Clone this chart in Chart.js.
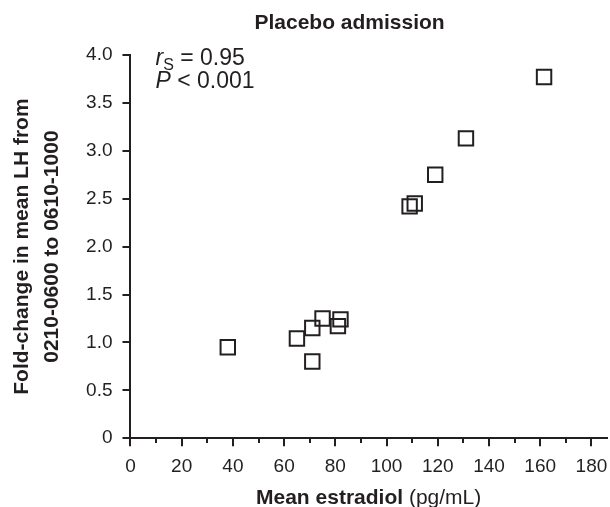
<!DOCTYPE html>
<html>
<head>
<meta charset="utf-8">
<script src="https://cdn.jsdelivr.net/npm/chart.js@4.4.1/dist/chart.umd.min.js"></script>
<style>
  html, body { margin: 0; padding: 0; background: #fff; overflow: hidden; }
  #wrap { width: 619px; height: 507px; position: relative; }
</style>
</head>
<body>
<div id="wrap"><canvas id="scatterChart"></canvas></div>
<script>
// data
const estradiol  = [38, 65, 71, 71, 75, 81, 82, 109, 111, 119, 131, 161.5];
const foldChange = [0.95, 1.04, 1.15, 0.80, 1.25, 1.17, 1.24, 2.42, 2.45, 2.75, 3.13, 3.77];

const xTickValues  = [0, 20, 40, 60, 80, 100, 120, 140, 160, 180];
const xMinorValues = [10, 30, 50, 70, 90, 110, 130, 150, 170];
const yTickValues  = [0, 0.5, 1, 1.5, 2, 2.5, 3, 3.5, 4];
const yTickLabels  = ['0', '0.5', '1.0', '1.5', '2.0', '2.5', '3.0', '3.5', '4.0'];

const chartTitle = 'Placebo admission';
const yTitle = ['Fold-change in mean LH from', '0210-0600 to 0610-1000'];
const xTitleBold = 'Mean estradiol';
const xTitleUnit = ' (pg/mL)';
const statR = ' = 0.95';
const statP = ' < 0.001';

const ink = '#231f20';
const family = '"Liberation Sans", Arial, sans-serif';

const points = estradiol.map((x, i) => ({ x: x, y: foldChange[i] }));

// title, stats and the mixed-weight x title
const extraText = {
    id: 'extraText',
    afterDraw(chart) {
        const ctx = chart.ctx;
        const area = chart.chartArea;
        ctx.save();
        ctx.fillStyle = ink;
        ctx.textBaseline = 'alphabetic';

        ctx.font = 'bold 21px ' + family;
        ctx.textAlign = 'center';
        ctx.fillText(chartTitle, area.left + area.width * 0.46, 29);

        // x axis title
        ctx.textAlign = 'left';
        ctx.font = 'bold 21px ' + family;
        const wb = ctx.measureText(xTitleBold).width;
        ctx.font = '21px ' + family;
        const wu = ctx.measureText(xTitleUnit).width;
        const tx = area.left + area.width * 0.5 - (wb + wu) / 2;
        ctx.font = 'bold 21px ' + family;
        ctx.fillText(xTitleBold, tx, 504);
        ctx.font = '21px ' + family;
        ctx.fillText(xTitleUnit, tx + wb, 504);

        // stats
        const sx = area.left + 25;
        let sy = area.top + 10;
        ctx.font = 'italic 23px ' + family;
        ctx.fillText('r', sx, sy);
        let w = ctx.measureText('r').width;
        ctx.font = '16px ' + family;
        ctx.fillText('S', sx + w, sy + 5);
        w += ctx.measureText('S').width;
        ctx.font = '23px ' + family;
        ctx.fillText(statR, sx + w, sy);

        sy += 23;
        ctx.font = 'italic 23px ' + family;
        ctx.fillText('P', sx, sy);
        w = ctx.measureText('P').width;
        ctx.font = '23px ' + family;
        ctx.fillText(statP, sx + w, sy);
        ctx.restore();
    }
};

const ctx = document.getElementById('scatterChart').getContext('2d');
const scatterChart = new Chart(ctx, {
    type: 'scatter',
    data: {
        datasets: [{
            data: points,
            pointStyle: 'rect',
            pointRadius: 10.2,
            pointHoverRadius: 10.2,
            borderWidth: 2,
            borderColor: ink,
            backgroundColor: 'rgba(0,0,0,0)'
        }]
    },
    options: {
        responsive: true,
        maintainAspectRatio: false,
        animation: false,
        events: [],
        layout: { padding: { top: 55, left: 4, right: 0, bottom: 20 } },
        plugins: {
            legend: { display: false },
            tooltip: { enabled: false },
            title: { display: false }
        },
        scales: {
            x: {
                type: 'linear',
                min: 0,
                max: 186,
                afterBuildTicks: axis => { axis.ticks = xTickValues.map(v => ({ value: v })); },
                ticks: { color: ink, font: { family: family, size: 19 }, padding: 9, maxRotation: 0 },
                grid: { drawOnChartArea: false, color: ink, lineWidth: 2, tickLength: 8 },
                border: { color: ink, width: 2 }
            },
            xMinor: {
                type: 'linear',
                position: { y: 0 },
                min: 0,
                max: 186,
                afterBuildTicks: axis => { axis.ticks = xMinorValues.map(v => ({ value: v })); },
                ticks: { display: false },
                grid: { drawOnChartArea: false, color: ink, lineWidth: 2, tickLength: 5 },
                border: { display: false }
            },
            y: {
                type: 'linear',
                min: 0,
                max: 4,
                afterBuildTicks: axis => { axis.ticks = yTickValues.map(v => ({ value: v })); },
                ticks: {
                    color: ink,
                    font: { family: family, size: 19 },
                    padding: 10,
                    callback: (v, i) => yTickLabels[i]
                },
                grid: { drawOnChartArea: false, color: ink, lineWidth: 2, tickLength: 8 },
                border: { color: ink, width: 2 },
                title: {
                    display: true,
                    text: yTitle,
                    color: ink,
                    font: { family: family, size: 21, weight: 'bold', lineHeight: 1.43 },
                    padding: { top: 3, bottom: 9 }
                }
            }
        }
    },
    plugins: [extraText]
});
</script>
</body>
</html>
